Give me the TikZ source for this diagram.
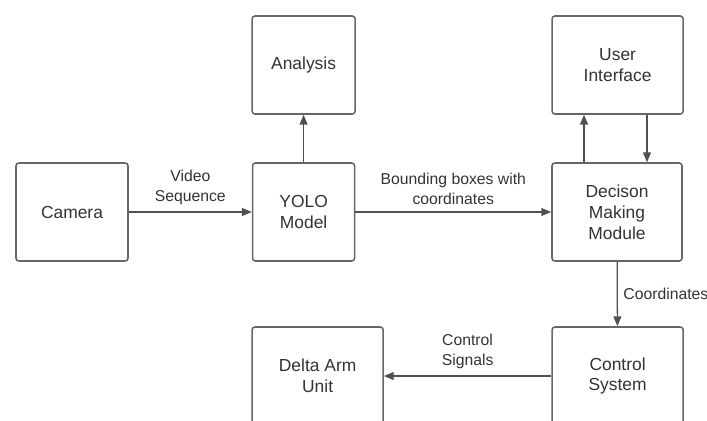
\documentclass[tikz,border=0pt]{standalone}
\usepackage{fontspec}
\setmainfont{Liberation Sans}
\usetikzlibrary{arrows.meta,positioning}
\definecolor{boxgray}{HTML}{666666}
\definecolor{linegray}{HTML}{505050}
\definecolor{textgray}{HTML}{333333}
\tikzset{
  block/.style={draw=boxgray,line width=1.1pt,rounded corners=2pt,fill=white,
    minimum height=2.45cm,align=center,text=textgray,
    font=\fontsize{12.4}{14.9}\selectfont},
  flow/.style={draw=linegray,line width=0.9pt,-{Triangle[length=7pt,width=5.6pt]}},
  lbl/.style={align=center,text=textgray,font=\fontsize{11.2}{13.8}\selectfont}
}
\begin{document}
\begin{tikzpicture}
\useasboundingbox (0,0) rectangle (17.675,-10.5);
\clip (0,0) rectangle (17.675,-10.5);
%%%%%%%%%%%%%%%%
\node[block,minimum width=2.8cm] (camera) at (1.8,-5.3) {Camera};
\node[block,minimum width=2.55cm] (yolo) at (7.59,-5.3) {YOLO\\Model};
\node[block,minimum width=2.575cm] (analysis) at (7.59,-1.625) {Analysis};
%%%%%%%%%%%%%%%%
\node[block,minimum width=3.275cm] (ui) at (15.44,-1.625) {User\\Interface};
\node[block,minimum width=3.25cm] (decision) at (15.425,-5.3) {Decison\\Making\\Module};
%%%%%%%%%%%%%%%%
\node[block,minimum width=3.275cm] (control) at (15.44,-9.4) {Control\\System};
\node[block,minimum width=3.275cm] (delta) at (7.94,-9.4) {Delta Arm\\Unit};
%%%%%%%%%%%%%%%%
\draw[flow] (camera) -- node[lbl,above=0.06cm] (video) {Video\\Sequence} (yolo);
\draw[flow] (yolo) -- (analysis);
\draw[flow] (yolo) -- node[lbl,above=0.06cm] (boxes) {Bounding boxes with\\coordinates} (decision);
\draw[flow] ([xshift=-0.825cm]decision.north) -- ([xshift=-0.84cm]ui.south);
\draw[flow] ([xshift=0.735cm]ui.south) -- ([xshift=0.75cm]decision.north);
\draw[flow] (decision) -- node[lbl,right=0.02cm] (coords) {Coordinates} (control);
\draw[flow] (control) -- node[lbl,above=0.06cm] (signals) {Control\\Signals} (delta.east |- control);
\end{tikzpicture}
\end{document}
